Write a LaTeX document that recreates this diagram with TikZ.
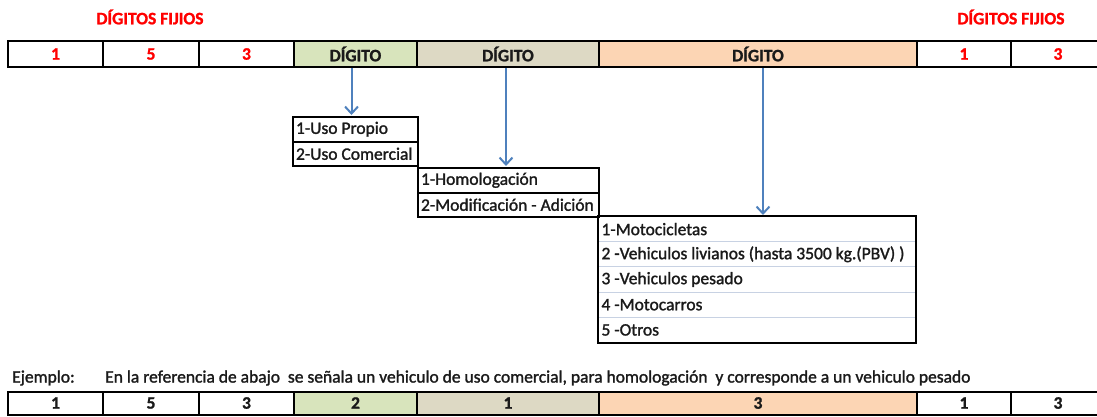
\documentclass[tikz,border=0pt]{standalone}
\usepackage{fontspec}
\setmainfont{Carlito}[BoldFeatures={FakeBold=1.2}]
\newfontfamily\itemfont{Carlito}[FakeBold=1.5]
\usetikzlibrary{arrows.meta}
\definecolor{cgreen}{HTML}{D8E4BC}
\definecolor{ctan}{HTML}{DDD9C4}
\definecolor{cpeach}{HTML}{FCD5B4}
\definecolor{cred}{HTML}{FF0000}
\definecolor{cblue}{HTML}{4F81BD}
\definecolor{csep}{HTML}{C8D2E3}
\definecolor{ctext}{HTML}{1A1A1A}
\begin{document}
\begin{tikzpicture}[x=1pt,y=-1pt,
  cell/.style={draw=black, line width=2pt, inner sep=0pt, minimum height=26pt,
    font=\fontsize{17.5}{20}\selectfont\bfseries, text=ctext},
  redcell/.style={cell, text=cred},
  titlelbl/.style={font=\fontsize{17.5}{20}\selectfont\bfseries, text=cred, inner sep=0pt},
  item/.style={draw=black, line width=2pt, inner xsep=3pt, inner ysep=0pt, minimum height=24.5pt,
    font=\fontsize{17.5}{20}\itemfont, text=ctext, align=flush left, anchor=north west},
  row/.style={draw=csep, line width=1pt, inner xsep=3pt, inner ysep=0pt, minimum height=25.2pt,
    font=\fontsize{17.5}{20}\itemfont, text=ctext, align=flush left, anchor=north west},
  plain/.style={font=\fontsize{17.5}{20}\itemfont, text=ctext, inner sep=0pt, anchor=west},
  arr/.style={draw=cblue, line width=2pt, -{Straight Barb[length=7pt,width=13pt]}}
]
\useasboundingbox (0,0) rectangle (1097,416);

% titles
\node[titlelbl] (tl) at (150,17) {DÍGITOS FIJIOS};
\node[titlelbl] (tr) at (1011,17) {DÍGITOS FIJIOS};

% top row
\node[redcell, minimum width=95pt] (c1) at (55.5,54) {1};
\node[redcell, minimum width=96pt] (c2) at (151,54) {5};
\node[redcell, minimum width=95pt] (c3) at (246.5,54) {3};
\node[cell, fill=cgreen, minimum width=123pt] (c4) at (355.5,54) {DÍGITO};
\node[cell, fill=ctan, minimum width=182pt] (c5) at (508,54) {DÍGITO};
\node[cell, fill=cpeach, minimum width=318pt] (c6) at (758,54) {DÍGITO};
\node[redcell, minimum width=94pt] (c7) at (964,54) {1};
\node[redcell, minimum width=94pt] (c8) at (1058,54) {3};

% box A
\node[item, minimum width=125pt, text width=119pt] (a1) at (292,116) {1-Uso Propio};
\node[item, minimum width=125pt, text width=119pt] (a2) at (292,140.5) {2-Uso Comercial};
% box B
\node[item, minimum width=181pt, text width=175pt] (b1) at (417,167) {1-Homologación};
\node[item, minimum width=181pt, text width=175pt] (b2) at (417,191.5) {2-Modificación - Adición};
% box C
\node[row, minimum width=317pt, text width=311pt] (r1) at (598,216) {1-Motocicletas};
\node[row, minimum width=317pt, text width=311pt] (r2) at (598,241.2) {2 -Vehiculos livianos (hasta 3500 kg.(PBV) )};
\node[row, minimum width=317pt, text width=311pt] (r3) at (598,266.4) {3 -Vehiculos pesado};
\node[row, minimum width=317pt, text width=311pt] (r4) at (598,291.6) {4 -Motocarros};
\node[row, minimum width=317pt, text width=311pt] (r5) at (598,316.8) {5 -Otros};
\draw[line width=2.2pt] (r1.north west) rectangle (r5.south east);

% arrows
\coordinate (p1) at (351.5,115);
\coordinate (p2) at (506,166);
\coordinate (p3) at (763,215);
\draw[arr] (c4.south -| p1) -- (p1);
\draw[arr] (c5.south -| p2) -- (p2);
\draw[arr] (c6.south -| p3) -- (p3);

% example
\node[plain] (ej) at (12,378) {Ejemplo:};
\node[plain] (ejt) at (105,378) {En la referencia de abajo\ \ se señala un vehiculo de uso comercial, para homologación\ \ y corresponde a un vehiculo pesado};

% bottom row
\node[cell, minimum width=95pt, minimum height=23pt] (e1) at (55.5,403) {1};
\node[cell, minimum width=96pt, minimum height=23pt] (e2) at (151,403) {5};
\node[cell, minimum width=95pt, minimum height=23pt] (e3) at (246.5,403) {3};
\node[cell, fill=cgreen, minimum width=123pt, minimum height=23pt] (e4) at (355.5,403) {2};
\node[cell, fill=ctan, minimum width=182pt, minimum height=23pt] (e5) at (508,403) {1};
\node[cell, fill=cpeach, minimum width=318pt, minimum height=23pt] (e6) at (758,403) {3};
\node[cell, minimum width=94pt, minimum height=23pt] (e7) at (964,403) {1};
\node[cell, minimum width=94pt, minimum height=23pt] (e8) at (1058,403) {3};
\end{tikzpicture}
\end{document}
